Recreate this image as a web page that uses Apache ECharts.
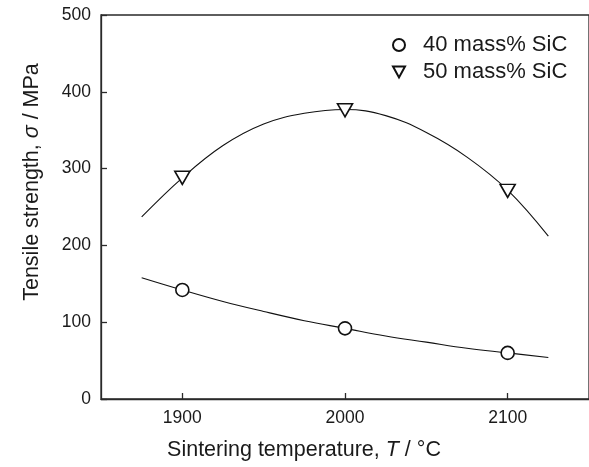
<!DOCTYPE html>
<html>
<head>
<meta charset="utf-8">
<script src="https://cdn.jsdelivr.net/npm/echarts@6/dist/echarts.min.js"></script>
<style>
html,body{margin:0;padding:0;background:#fff;}
#chart{width:589px;height:467px;}
</style>
</head>
<body>
<div id="chart"></div>
<script>
// Measured points
var temps = [1900, 2000, 2100];
var sic40 = [142, 92, 60];
var sic50 = [288, 376, 271];
// Fitted curves
var fitT = [1875, 1900, 1925, 1950, 1975, 2000, 2025, 2050, 2075, 2100, 2125];
var fit40 = [158, 142, 127, 114, 102, 92, 82, 74, 66, 60, 54];
var fit50 = [237, 288, 330, 358, 372, 377, 369, 347, 315, 272, 212];
// Axis ticks
var xTicks = [1900, 2000, 2100];
var legendNames = ['40 mass% SiC', '50 mass% SiC'];

function pairs(xs, ys) { return xs.map(function (x, i) { return [x, ys[i]]; }); }

var FONT = 'Liberation Sans, Arial, Helvetica, sans-serif';
var TXT = '#1a1a1a';
var AX = '#2a2a2a';

var chart = echarts.init(document.getElementById('chart'), null, { renderer: 'canvas' });
chart.setOption({
  animation: false,
  backgroundColor: '#fff',
  grid: { left: 101, right: -3, top: 15, bottom: 68, show: true, borderColor: AX, borderWidth: 1.3, containLabel: false },
  legend: {
    orient: 'vertical', left: 387, top: 29,
    data: [
      { name: legendNames[0], icon: 'circle' },
      { name: legendNames[1], icon: 'path://M0,0 L12,0 L6,11 Z' }
    ],
    itemWidth: 12, itemHeight: 12, itemGap: 5,
    textStyle: { fontFamily: FONT, fontSize: 22, color: TXT, padding: [0, 0, 0, 13], lineHeight: 22 }
  },
  xAxis: {
    type: 'value', min: 1850, max: 2150,
    name: 'Sintering temperature, {i|T} / °C',
    nameLocation: 'middle', nameGap: 40,
    nameTextStyle: {
      fontFamily: FONT, fontSize: 21.5, color: TXT, padding: [0, 82, 0, 0],
      rich: { i: { fontFamily: FONT, fontSize: 21.5, fontStyle: 'italic', color: TXT } }
    },
    axisLine: { lineStyle: { color: AX, width: 1.3 } },
    axisTick: { inside: true, length: 6, customValues: xTicks, lineStyle: { color: AX, width: 1.3 } },
    axisLabel: { customValues: xTicks, fontFamily: FONT, fontSize: 17.5, color: TXT, margin: 10,
      formatter: function (v) { return String(v); } },
    splitLine: { show: false }
  },
  yAxis: {
    type: 'value', min: 0, max: 500, interval: 100,
    name: 'Tensile strength, {i|σ} / MPa',
    nameLocation: 'middle', nameGap: 58,
    nameTextStyle: {
      fontFamily: FONT, fontSize: 21.5, color: TXT, padding: [0, 0, 0, 50],
      rich: { i: { fontFamily: FONT, fontSize: 21.5, fontStyle: 'italic', color: TXT } }
    },
    axisLine: { show: true, lineStyle: { color: AX, width: 1.3 } },
    axisTick: { show: true, inside: true, length: 6, lineStyle: { color: AX, width: 1.3 } },
    axisLabel: { fontFamily: FONT, fontSize: 17.5, color: TXT, margin: 10 },
    splitLine: { show: false }
  },
  series: [
    {
      type: 'line', name: 'fit40', data: pairs(fitT, fit40), smooth: 0.4, showSymbol: false, symbol: 'none',
      lineStyle: { color: '#111', width: 1.1 }, z: 2, silent: true
    },
    {
      type: 'line', name: 'fit50', data: pairs(fitT, fit50), smooth: 0.4, showSymbol: false, symbol: 'none',
      lineStyle: { color: '#111', width: 1.1 }, z: 2, silent: true
    },
    {
      type: 'scatter', name: legendNames[0], data: pairs(temps, sic40),
      symbol: 'circle', symbolSize: 13,
      itemStyle: { color: '#fff', borderColor: '#111', borderWidth: 1.6, opacity: 1 }, z: 5
    },
    {
      type: 'scatter', name: legendNames[1], data: pairs(temps, sic50),
      symbol: 'triangle', symbolRotate: 180, symbolSize: [15, 13],
      itemStyle: { color: '#fff', borderColor: '#111', borderWidth: 1.6, opacity: 1 }, z: 5
    }
  ]
});
</script>
</body>
</html>
